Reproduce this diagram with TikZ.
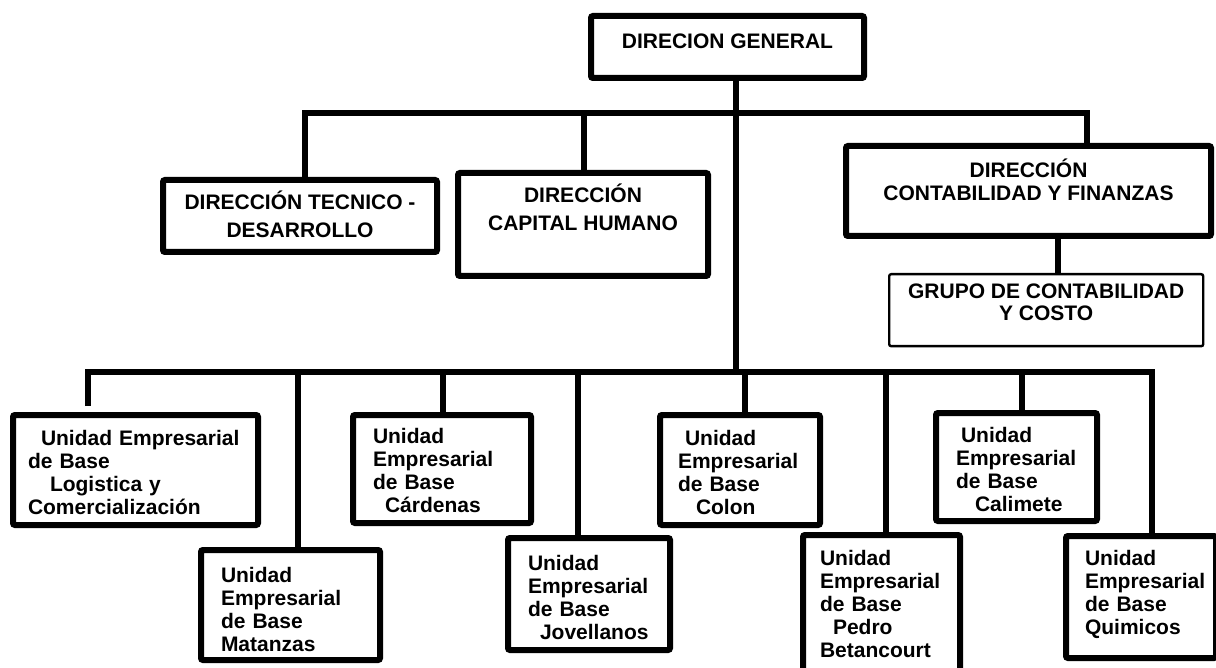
\documentclass[tikz,border=0pt]{standalone}
\usepackage{fontspec}
\setmainfont{Liberation Sans}
\hyphenpenalty=10000
\begin{document}
\begin{tikzpicture}[x=0.5pt, y=-0.5pt,
  box/.style={draw, line width=3pt, rounded corners=1pt, anchor=north west,
    inner ysep=0pt, align=center, font=\bfseries\fontsize{10.5}{11.5}\selectfont},
  unit/.style={box, align=left},
  link/.style={line width=3pt}]

  \useasboundingbox (0,0) rectangle (1216,668);

  \node[box, minimum width=136.5pt, text height=16.25pt, text depth=14.75pt] (dg) at (588,13) {DIRECION GENERAL};

  \node[box, minimum width=137pt, text height=28.75pt, text depth=7.25pt,
    font=\bfseries\fontsize{10.5}{14}\selectfont] (dtd) at (160,177) {DIRECCIÓN TECNICO -\\DESARROLLO};
  \node[box, minimum width=125pt, text height=28.75pt, text depth=22.75pt,
    font=\bfseries\fontsize{10.5}{14}\selectfont] (dch) at (455,170) {DIRECCIÓN\\CAPITAL HUMANO};
  \node[box, minimum width=182.5pt, text height=27.25pt, text depth=17.75pt] (dcf) at (843,143) {DIRECCIÓN\\CONTABILIDAD Y FINANZAS};
  \node[box, line width=1.2pt, minimum width=157pt, text height=23.25pt, text depth=12.75pt,
    font=\bfseries\fontsize{10.5}{11}\selectfont] (gcc) at (888,273) {GRUPO DE CONTABILIDAD\\Y COSTO};

  \node[unit, inner xsep=7.5pt, text width=107.5pt, text height=15.25pt, text depth=39.75pt] (log) at (10,412)
    {\hspace*{6.5pt}Unidad Empresarial\\de Base\\\hspace*{11pt}Logistica y\\Comercialización};
  \node[unit, inner xsep=10pt, text width=69.5pt, text height=16.25pt, text depth=38.75pt] (mat) at (198,547)
    {Unidad\\Empresarial\\de Base\\Matanzas};
  \node[unit, inner xsep=10pt, text width=69pt, text height=14.25pt, text depth=39.75pt] (car) at (350,412)
    {Unidad\\Empresarial\\de Base\\\hspace*{6pt}Cárdenas};
  \node[unit, inner xsep=10pt, text width=61pt, text height=16.25pt, text depth=39.75pt] (jov) at (505,535)
    {Unidad\\Empresarial\\de Base\\\hspace*{6pt}Jovellanos};
  \node[unit, inner xsep=9pt, text width=62pt, text height=15.25pt, text depth=39.75pt] (col) at (657,412)
    {\hspace*{3.5pt}Unidad\\Empresarial\\de Base\\\hspace*{9pt}Colon};
  \node[unit, inner xsep=8.5pt, text width=61.5pt, text height=15.25pt, text depth=56.75pt] (ped) at (800,532)
    {Unidad\\Empresarial\\de Base\\\hspace*{6.5pt}Pedro\\Betancourt};
  \node[unit, inner xsep=10pt, text width=60.5pt, text height=14.75pt, text depth=39.25pt] (cal) at (933,410)
    {\hspace*{2.5pt}Unidad\\Empresarial\\de Base\\\hspace*{9.5pt}Calimete};
  \node[unit, inner xsep=9.5pt, text width=56pt, text height=14.75pt, text depth=46.25pt] (qui) at (1063,533)
    {Unidad\\Empresarial\\de Base\\Quimicos};

  \coordinate (top) at (736,113);
  \coordinate (bot) at (736,372);
  \draw[link] (dg.south -| top) -- (bot);

  \foreach \n/\x in {dtd/305, dch/584, dcf/1087}
    \coordinate (tap-\n) at (\x,113);
  \draw[link] (tap-dtd |- dtd.north) -- (tap-dtd) -- (tap-dcf) -- (tap-dcf |- dcf.north);
  \draw[link] (tap-dch) -- (tap-dch |- dch.north);

  \coordinate (tap-gcc) at (1058,253);
  \draw[link] (tap-gcc |- dcf.south) -- (tap-gcc |- gcc.north);

  \foreach \n/\x in {log/88, mat/298, car/443, jov/578, col/745, ped/886, cal/1022, qui/1152}
    \coordinate (tap-\n) at (\x,372);
  \draw[link, shorten <=3pt] (tap-log |- log.north) -- (tap-log) -- (tap-qui) -- (tap-qui |- qui.north);
  \foreach \n in {mat, car, jov, col, ped, cal}
    \draw[link] (tap-\n) -- (tap-\n |- \n.north);

\end{tikzpicture}
\end{document}
